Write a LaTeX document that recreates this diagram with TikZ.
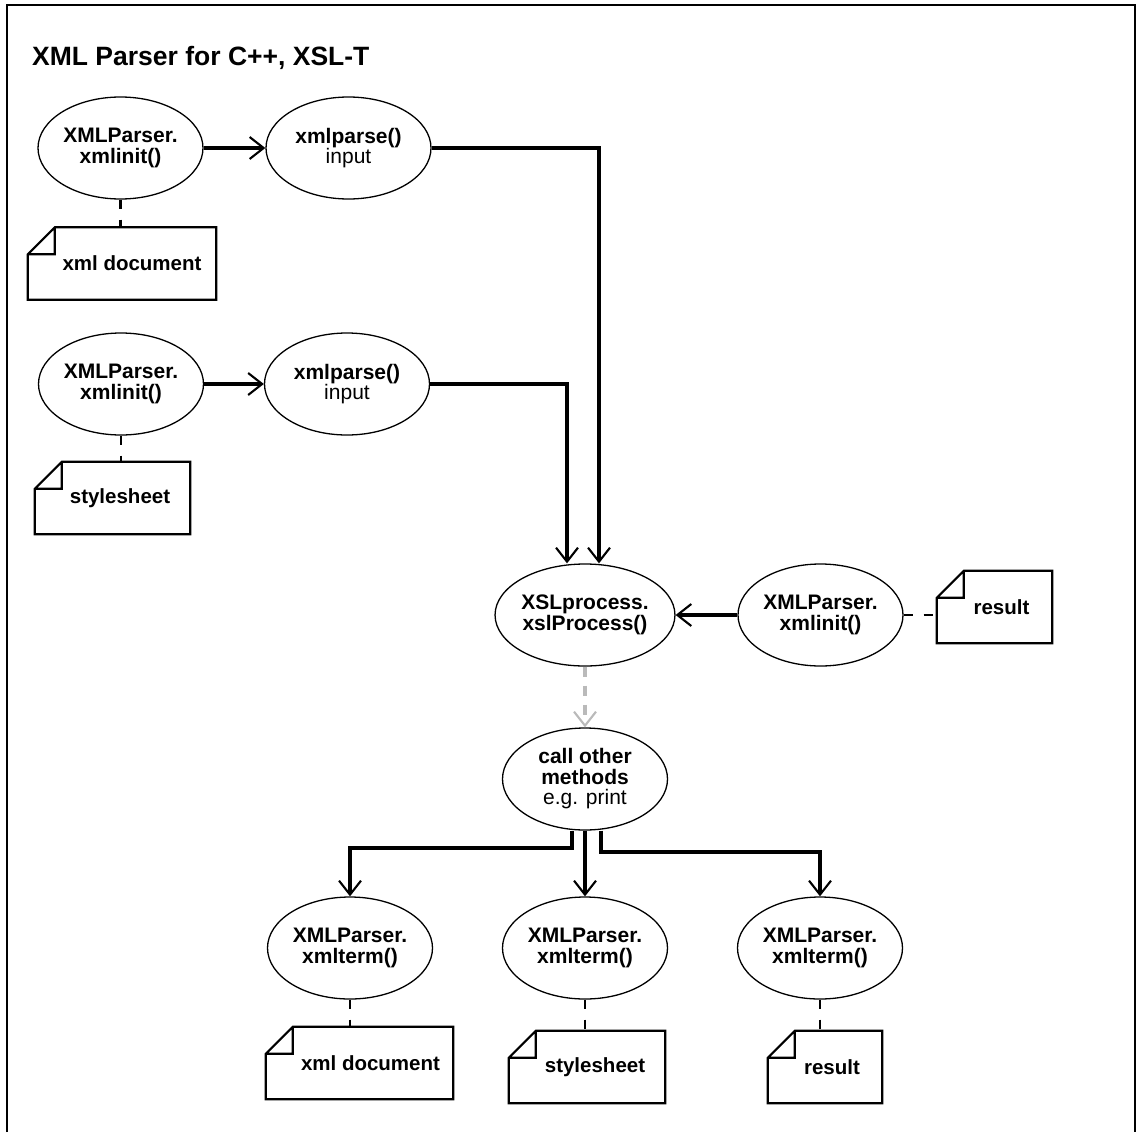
\documentclass[tikz,border=0pt]{standalone}
\usepackage{fontspec}
\setmainfont{Liberation Sans}
\usetikzlibrary{shapes.geometric,arrows.meta,calc}
\begin{document}
\begin{tikzpicture}[x=1pt,y=-1pt,
  proc/.style={ellipse, draw, line width=1.3pt, minimum width=165pt, minimum height=102pt, inner sep=0pt, align=center, font=\fontsize{21}{20.5}\selectfont\bfseries},
  note/.style={rectangle, minimum height=72pt, inner sep=0pt, font=\fontsize{20.5}{22}\selectfont\bfseries},
  noteline/.style={line width=2.2pt, line join=miter},
  flow/.style={line width=3.3pt, -{Straight Barb[length=14pt,width=22pt,line width=2.1pt]}},
  tie/.style={line width=2.4pt, dash pattern=on 9pt off 11pt},
  hint/.style={line width=3.3pt, color=black!27, dash pattern=on 10pt off 9pt, -{Straight Barb[length=14pt,width=22pt,line width=2.1pt]}},
  frame/.style={line width=2.5pt},
  title/.style={font=\fontsize{26.5}{30}\selectfont\bfseries, anchor=base west, inner sep=0pt}
]
\useasboundingbox (0,0) rectangle (1139,1132);
\draw[frame] (7,1132) -- (7,5) -- (1135,5) -- (1135,1132);

\node[title] (ttl) at (32,66) {XML Parser for C++, XSL-T};

% row 1
\node[proc] (i1) at (120.5,148) {XMLParser.\\xmlinit()};
\node[proc] (p1) at (348.5,148) {xmlparse()\\{\mdseries input}};
\node[note, minimum width=188pt] (d1) at (122,263.5) {\hspace*{20pt}xml document};

% row 2
\node[proc] (i2) at (121,384) {XMLParser.\\xmlinit()};
\node[proc] (p2) at (347,384) {xmlparse()\\{\mdseries input}};
\node[note, minimum width=155pt] (d2) at (112.5,498) {\hspace*{15pt}stylesheet};

% middle
\node[proc] (x) at (585,615) {XSLprocess.\\xslProcess()};
\node[proc] (r) at (820.5,615) {XMLParser.\\xmlinit()};
\node[note, minimum width=115pt] (nr) at (994.5,607) {\hspace*{14pt}result};
\node[proc] (callo) at (585,779) {call other\\methods\\{\mdseries e.g. print}};

% bottom
\node[proc] (bl) at (350,948) {XMLParser.\\xmlterm()};
\node[proc] (bm) at (585,948) {XMLParser.\\xmlterm()};
\node[proc] (br) at (820,948) {XMLParser.\\xmlterm()};
\node[note, minimum width=187pt] (d4) at (359.5,1063) {\hspace*{22pt}xml document};
\node[note, minimum width=156pt] (d5) at (587,1067) {\hspace*{16pt}stylesheet};
\node[note, minimum width=114pt] (d6) at (825,1067) {\hspace*{14pt}result};

% note outlines
\foreach \n in {d1,d2,nr,d4,d5,d6}{
  \draw[noteline] ([xshift=27pt]\n.north west) -- (\n.north east) -- (\n.south east) -- (\n.south west) -- ([yshift=-27pt]\n.north west) -- cycle
     ([xshift=27pt]\n.north west) |- ([yshift=-27pt]\n.north west);
}

% connectors
\draw[flow] (i1.east) -- (p1.west);
\draw[flow] (i2.east) -- (p2.west);
\coordinate (c1) at (599,148);
\coordinate (c2) at (567,384);
\draw[flow] (p1.east) -- (c1) -- (c1 |- x.north);
\draw[flow] (p2.east) -- (c2) -- (c2 |- x.north);
\draw[flow] (r.west) -- (x.east);
\draw[tie] (r.east) -- (r.east -| nr.west);
\draw[hint] (x.south) -- (callo.north);

\coordinate (j1) at (572,848);
\coordinate (j3) at (601,852);
\draw[flow] (callo.south -| j1) -- (j1) -| (bl.north);
\draw[flow] (callo.south) -- (bm.north);
\draw[flow] (callo.south -| j3) -- (j3) -| (br.north);

\draw[tie] (i1.south) -- (i1.south |- d1.north);
\draw[tie] (i2.south) -- (i2.south |- d2.north);
\draw[tie] (bl.south) -- (bl.south |- d4.north);
\draw[tie] (bm.south) -- (bm.south |- d5.north);
\draw[tie] (br.south) -- (br.south |- d6.north);
\end{tikzpicture}
\end{document}
